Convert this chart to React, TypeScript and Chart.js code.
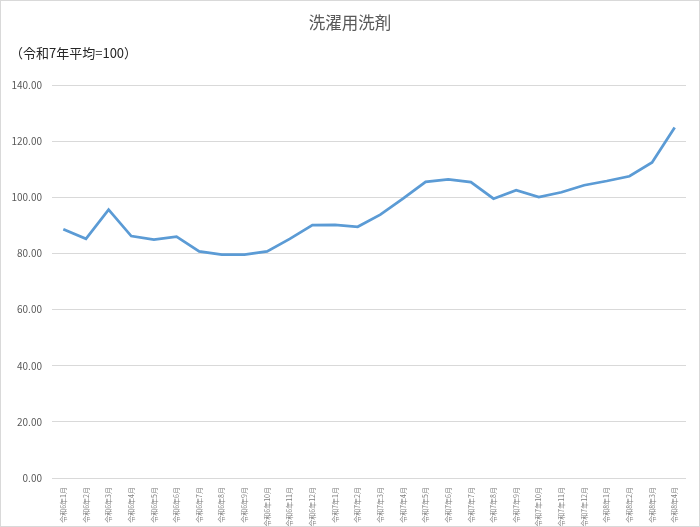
import { useEffect, useRef } from "react";
import { Chart, registerables } from "chart.js";
import type { ChartConfiguration, Plugin } from "chart.js";

Chart.register(...registerables);

const months: string[] = [
  "令和6年1月", "令和6年2月", "令和6年3月", "令和6年4月", "令和6年5月", "令和6年6月",
  "令和6年7月", "令和6年8月", "令和6年9月", "令和6年10月", "令和6年11月", "令和6年12月",
  "令和7年1月", "令和7年2月", "令和7年3月", "令和7年4月", "令和7年5月", "令和7年6月",
  "令和7年7月", "令和7年8月", "令和7年9月", "令和7年10月", "令和7年11月", "令和7年12月",
  "令和8年1月", "令和8年2月", "令和8年3月", "令和8年4月",
];

const detergentIndex: number[] = [
  88.6, 85.2, 95.6, 86.2, 84.9, 86.0, 80.7, 79.6, 79.6, 80.7, 85.2, 90.1,
  90.2, 89.5, 93.8, 99.5, 105.5, 106.4, 105.4, 99.5, 102.5, 100.1, 101.8, 104.3,
  105.8, 107.5, 112.4, 124.9,
];

const chartTitle = "洗濯用洗剤";
const baseNote = "（令和7年平均=100）";

const FONT = "'Noto Sans CJK JP', 'Noto Sans', sans-serif";

// title + base note drawn at fixed spots like the original sheet
const headerText: Plugin<"line"> = {
  id: "headerText",
  afterDraw(chart) {
    const ctx = chart.ctx;
    ctx.save();
    ctx.textBaseline = "middle";
    ctx.fillStyle = "#595959";
    ctx.font = `16.5px ${FONT}`;
    ctx.textAlign = "center";
    ctx.fillText(chartTitle, chart.width / 2, 22);
    ctx.fillStyle = "#262626";
    ctx.font = `13px ${FONT}`;
    ctx.textAlign = "left";
    ctx.fillText(baseNote, 9, 52);
    ctx.restore();
  },
};

export default function App() {
  const canvasRef = useRef<HTMLCanvasElement>(null);
  const chartRef = useRef<Chart<"line"> | null>(null);

  useEffect(() => {
    document.body.style.margin = "0";
    if (!canvasRef.current) return;

    if (chartRef.current) {
      chartRef.current.destroy();
    }

    const config: ChartConfiguration<"line"> = {
      type: "line",
      data: {
        labels: months,
        datasets: [
          {
            label: chartTitle,
            data: detergentIndex,
            borderColor: "#5B9BD5",
            backgroundColor: "#5B9BD5",
            borderWidth: 2.75,
            pointRadius: 0,
            tension: 0,
          },
        ],
      },
      options: {
        animation: false,
        responsive: false,
        maintainAspectRatio: false,
        layout: {
          padding: { top: 84, right: 13, left: 0, bottom: 0 },
        },
        plugins: {
          legend: { display: false },
          tooltip: { enabled: false },
        },
        scales: {
          x: {
            offset: true,
            grid: { display: false },
            border: { display: false },
            ticks: {
              autoSkip: false,
              maxRotation: 90,
              minRotation: 90,
              padding: 1,
              color: "#7f7f7f",
              font: { family: FONT, size: 7 },
            },
            afterFit(scale) {
              scale.height = 48;
            },
          },
          y: {
            min: 0,
            max: 140,
            grid: { color: "#d9d9d9", drawTicks: false, lineWidth: 1 },
            border: { display: false },
            ticks: {
              stepSize: 20,
              padding: 10,
              color: "#595959",
              font: { family: FONT, size: 10 },
              callback: (v) => Number(v).toFixed(2),
            },
            afterFit(scale) {
              scale.width = 51;
            },
          },
        },
      },
      plugins: [headerText],
    };

    chartRef.current = new Chart(canvasRef.current, config);

    return () => {
      if (chartRef.current) {
        chartRef.current.destroy();
        chartRef.current = null;
      }
    };
  }, []);

  return (
    <div
      style={{
        width: 700,
        height: 527,
        boxSizing: "border-box",
        border: "1px solid #d9d9d9",
        background: "#fff",
      }}
    >
      <canvas ref={canvasRef} width={698} height={525} style={{ display: "block" }}></canvas>
    </div>
  );
}
